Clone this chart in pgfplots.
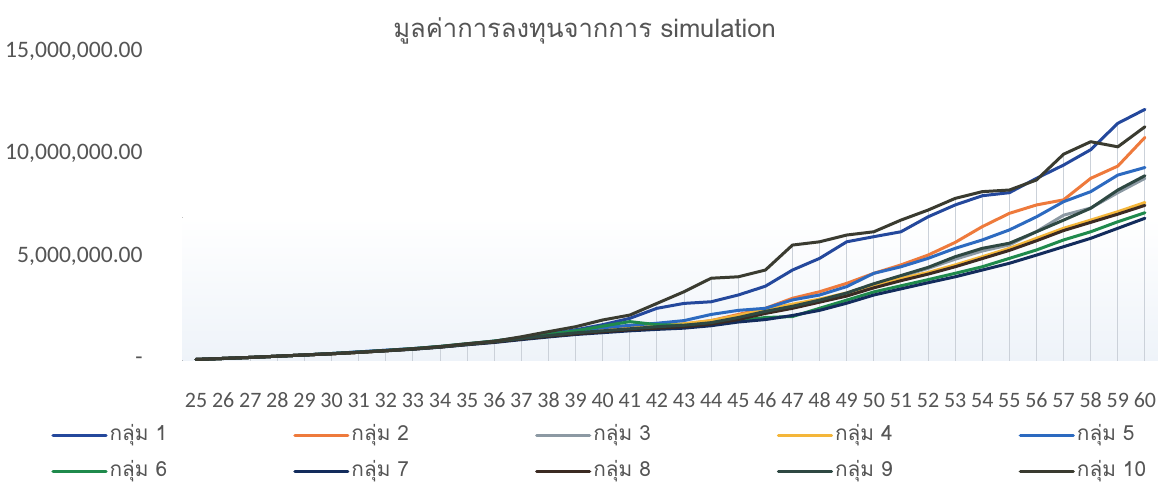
\documentclass[border=0pt]{standalone}
\usepackage{fontspec}
\setmainfont{Carlito}
\newfontfamily\thaifont[Script=Thai]{Loma}
\usepackage{pgfplots}
\usepackage{pgfplotstable}
\pgfplotsset{compat=1.18}

\definecolor{c1}{HTML}{24489C}
\definecolor{c2}{HTML}{EE7A3C}
\definecolor{c3}{HTML}{8C99A3}
\definecolor{c4}{HTML}{F4B63A}
\definecolor{c5}{HTML}{2C6AC0}
\definecolor{c6}{HTML}{1F8A4C}
\definecolor{c7}{HTML}{132C5C}
\definecolor{c8}{HTML}{3B2A22}
\definecolor{c9}{HTML}{2E4842}
\definecolor{c10}{HTML}{3A3B30}
\definecolor{labelgray}{HTML}{555555}
\definecolor{dropgray}{HTML}{CBD1D9}
\definecolor{axisgray}{HTML}{D5D9DE}
\definecolor{bgtint}{HTML}{EEF3F9}

% simulated investment value per age, in millions of baht
\pgfplotstableread{
age g1 g2 g3 g4 g5 g6 g7 g8 g9 g10
25 0.05 0.05 0.05 0.05 0.05 0.05 0.05 0.05 0.05 0.05
26 0.10 0.10 0.10 0.10 0.10 0.10 0.10 0.10 0.10 0.10
27 0.15 0.15 0.15 0.15 0.15 0.15 0.15 0.15 0.15 0.15
28 0.21 0.21 0.21 0.21 0.21 0.21 0.21 0.21 0.21 0.21
29 0.27 0.27 0.27 0.27 0.27 0.27 0.27 0.27 0.27 0.27
30 0.34 0.33 0.33 0.33 0.34 0.34 0.33 0.33 0.33 0.33
31 0.42 0.40 0.40 0.40 0.42 0.41 0.40 0.40 0.40 0.40
32 0.50 0.48 0.48 0.48 0.50 0.49 0.47 0.48 0.48 0.48
33 0.58 0.56 0.56 0.57 0.58 0.58 0.55 0.56 0.56 0.57
34 0.68 0.66 0.66 0.67 0.68 0.69 0.65 0.66 0.66 0.68
35 0.80 0.80 0.79 0.80 0.81 0.82 0.77 0.78 0.79 0.82
36 0.92 0.93 0.92 0.94 0.95 0.95 0.88 0.90 0.92 0.94
37 1.10 1.08 1.07 1.10 1.12 1.12 1.02 1.05 1.08 1.16
38 1.30 1.24 1.20 1.25 1.30 1.28 1.15 1.18 1.22 1.41
39 1.50 1.38 1.33 1.38 1.45 1.45 1.27 1.30 1.35 1.65
40 1.75 1.48 1.43 1.50 1.60 1.68 1.36 1.40 1.45 1.98
41 2.06 1.58 1.53 1.60 1.72 1.90 1.45 1.50 1.55 2.22
42 2.55 1.68 1.62 1.70 1.82 1.75 1.52 1.58 1.65 2.79
43 2.79 1.78 1.70 1.80 1.95 1.72 1.58 1.65 1.72 3.36
44 2.87 1.95 1.82 1.95 2.25 1.80 1.70 1.78 1.85 4.02
45 3.20 2.25 2.05 2.20 2.45 1.95 1.88 2.00 2.10 4.09
46 3.63 2.55 2.35 2.50 2.55 2.10 2.00 2.30 2.40 4.42
47 4.42 3.04 2.60 2.75 2.96 2.15 2.20 2.55 2.65 5.64
48 4.99 3.36 2.90 3.00 3.20 2.55 2.45 2.85 2.95 5.80
49 5.80 3.77 3.25 3.30 3.61 2.95 2.80 3.15 3.30 6.13
50 6.05 4.26 3.70 3.70 4.26 3.35 3.20 3.55 3.75 6.29
51 6.29 4.67 4.10 4.00 4.58 3.65 3.50 3.90 4.15 6.86
52 7.02 5.15 4.50 4.30 4.99 3.95 3.80 4.22 4.55 7.35
53 7.60 5.77 4.95 4.67 5.48 4.26 4.09 4.58 5.07 7.92
54 8.05 6.54 5.35 5.07 5.89 4.58 4.42 4.98 5.48 8.25
55 8.20 7.19 5.65 5.48 6.38 4.99 4.75 5.38 5.73 8.33
56 8.90 7.60 6.30 5.97 7.02 5.40 5.15 5.85 6.29 8.82
57 9.55 7.85 7.10 6.46 7.76 5.89 5.56 6.35 6.86 10.08
58 10.30 8.90 7.45 6.86 8.25 6.29 5.97 6.75 7.44 10.69
59 11.59 9.50 8.20 7.27 9.06 6.78 6.46 7.15 8.33 10.44
60 12.27 10.90 8.90 7.72 9.43 7.22 6.95 7.58 9.03 11.42
}\simdata

\begin{document}
\begin{tikzpicture}
\useasboundingbox (-91.25pt,-63.75pt) rectangle (487.75pt,180.25pt);
\begin{axis}[
  at={(0pt,0pt)}, anchor=south west,
  scale only axis, width=488pt, height=153.5pt,
  xmin=24.5, xmax=60.5, ymin=0, ymax=15,
  xtick={25,...,60}, ytick={0,5,10,15},
  yticklabels={-, {5,000,000.00}, {10,000,000.00}, {15,000,000.00}},
  major tick length=0pt, tick style={draw=none},
  axis x line*=bottom, axis y line*=left,
  x axis line style={draw=axisgray, line width=0.6pt, -},
  y axis line style={draw=none, -},
  /pgf/number format/assume math mode=true,
  ticklabel style={text=labelgray, inner sep=0pt},
  xticklabel style={font=\fontsize{11}{13}\selectfont, anchor=base, yshift=-23.5pt},
  yticklabel style={font=\fontsize{11.8}{14}\selectfont, anchor=base east, xshift=-19.75pt, yshift=-2pt},
  title={มูลค่าการลงทุนจากการ simulation},
  every axis title shift=0pt,
  title style={at={(axis description cs:0.412,1.075)}, anchor=center,
    font=\thaifont\fontsize{12.8}{15}\selectfont, text=labelgray},
  no markers,
  every axis plot/.append style={line cap=round, line join=round},
  legend columns=5,
  legend cell align=left,
  legend style={draw=none, fill=none, inner sep=0pt,
    at={(axis description cs:-0.1347,-0.3029)}, anchor=west,
    font=\thaifont\fontsize{10.4}{12.5}\selectfont, text=labelgray,
    row sep=7pt,
    /tikz/every even column/.append style={column sep=63pt},
    /tikz/every odd column/.append style={column sep=1pt},
    nodes={inner sep=0pt, text height=8pt, text depth=3pt}},
  legend image code/.code={\draw[#1, line width=1.6pt] (0pt,0pt) -- (26.5pt,0pt);},
]
% soft tint behind the lower part of the plot area
\fill[top color=white, bottom color=bgtint] (axis cs:24.5,0) rectangle (axis cs:60.5,7);

% drop lines from each age down to the axis
\foreach \g in {g1,g2,g3,g4,g5,g6,g7,g8,g9,g10} {
  \addplot[ycomb, draw=dropgray, line width=0.5pt, forget plot] table[x=age, y=\g] {\simdata};
}

\addplot[c1, line width=1.5pt] table[x=age, y=g1] {\simdata};
\addlegendentry{กลุ่ม 1}
\addplot[c2, line width=1.5pt] table[x=age, y=g2] {\simdata};
\addlegendentry{กลุ่ม 2}
\addplot[c3, line width=1.5pt] table[x=age, y=g3] {\simdata};
\addlegendentry{กลุ่ม 3}
\addplot[c4, line width=1.5pt] table[x=age, y=g4] {\simdata};
\addlegendentry{กลุ่ม 4}
\addplot[c5, line width=1.5pt] table[x=age, y=g5] {\simdata};
\addlegendentry{กลุ่ม 5}
\addplot[c6, line width=1.5pt] table[x=age, y=g6] {\simdata};
\addlegendentry{กลุ่ม 6}
\addplot[c7, line width=1.5pt] table[x=age, y=g7] {\simdata};
\addlegendentry{กลุ่ม 7}
\addplot[c8, line width=1.5pt] table[x=age, y=g8] {\simdata};
\addlegendentry{กลุ่ม 8}
\addplot[c9, line width=1.5pt] table[x=age, y=g9] {\simdata};
\addlegendentry{กลุ่ม 9}
\addplot[c10, line width=1.5pt] table[x=age, y=g10] {\simdata};
\addlegendentry{กลุ่ม 10}
\end{axis}
\end{tikzpicture}
\end{document}
